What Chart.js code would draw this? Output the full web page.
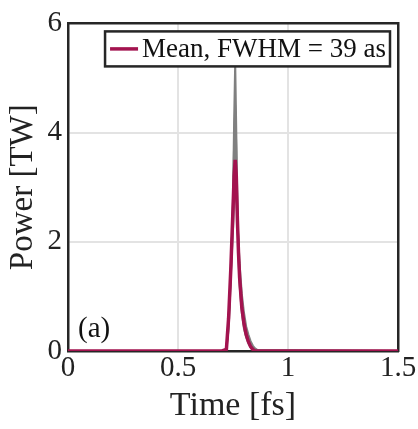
<!DOCTYPE html>
<html>
<head>
<meta charset="utf-8">
<script src="https://cdn.jsdelivr.net/npm/chart.js@4.4.1/dist/chart.umd.min.js"></script>
<style>
  html, body { margin: 0; padding: 0; background: #ffffff; }
  #wrap { width: 418px; height: 429px; }
</style>
</head>
<body>
<div id="wrap"><canvas id="c" width="418" height="429"></canvas></div>
<script>
// ---- data ----
const xTicks = [0, 0.5, 1, 1.5];
const yTicks = [0, 2, 4, 6];

const meanLabel = 'Mean, FWHM = 39 as';
const tMean = [0, 0.70, 0.72, 0.73, 0.74, 0.75, 0.755, 0.76, 0.765, 0.77, 0.775, 0.78, 0.79, 0.80, 0.81, 0.82, 0.83, 0.84, 0.85, 1.5];
const pMean = [0, 0, 0.03, 0.6, 1.5, 2.6, 3.2, 3.5, 3.2, 2.4, 1.8, 1.35, 0.8, 0.5, 0.3, 0.17, 0.08, 0.03, 0, 0];

const tShot = [0, 0.70, 0.72, 0.73, 0.74, 0.75, 0.755, 0.76, 0.765, 0.77, 0.775, 0.78, 0.79, 0.80, 0.81, 0.82, 0.83, 0.84, 0.85, 0.86, 1.5];
const shot1 = [0, 0, 0.02, 0.4, 1.3, 2.8, 4.2, 5.3, 4.0, 2.6, 1.7, 1.2, 0.7, 0.4, 0.25, 0.14, 0.07, 0.03, 0.01, 0, 0];
const shot2 = [0, 0, 0.03, 0.5, 1.4, 2.7, 3.8, 4.5, 3.7, 2.6, 1.9, 1.4, 0.85, 0.55, 0.33, 0.2, 0.1, 0.05, 0.02, 0, 0];
const shot3 = [0, 0, 0.04, 0.6, 1.4, 2.2, 2.7, 2.9, 2.8, 2.4, 2.0, 1.6, 1.05, 0.7, 0.45, 0.3, 0.18, 0.1, 0.05, 0.02, 0];
const shot4 = [0, 0, 0.03, 0.55, 1.5, 2.6, 3.4, 3.8, 3.3, 2.5, 1.9, 1.45, 0.9, 0.6, 0.38, 0.24, 0.13, 0.07, 0.03, 0.01, 0];
const shots = [shot1, shot2, shot3, shot4];

// ---- styles ----
const FONT = '"Liberation Serif", "Times New Roman", serif';
const AXIS = '#262626';
const GRID = '#e3e3e3';
const MEAN_COLOR = '#a3134f';
const SHOT_COLOR = '#808080';

const toXY = (ts, ps) => ts.map((t, i) => ({ x: t, y: ps[i] }));

const datasets = shots.map((s, i) => ({
  label: 'shot ' + (i + 1),
  data: toXY(tShot, s),
  borderColor: SHOT_COLOR,
  borderWidth: 2,
  pointRadius: 0,
  tension: 0,
  fill: false,
  order: 2,
  inLegend: false
}));
datasets.push({
  label: meanLabel,
  data: toXY(tMean, pMean),
  borderColor: MEAN_COLOR,
  borderWidth: 3.5,
  pointRadius: 0,
  tension: 0,
  fill: false,
  order: 0,
  inLegend: true
});

const boxAndLegend = {
  id: 'boxAndLegend',
  afterDatasetsDraw(chart) {
    const ctx = chart.ctx;
    const ca = chart.chartArea;
    ctx.save();
    // "(a)" panel label
    ctx.font = '29px ' + FONT;
    ctx.fillStyle = '#111';
    ctx.textAlign = 'left';
    ctx.textBaseline = 'alphabetic';
    ctx.fillText('(a)', ca.left + 10, ca.bottom - 14);

    // legend box
    const ds = chart.data.datasets.find(d => d.inLegend);
    ctx.font = '27px ' + FONT;
    const tw = ctx.measureText(ds.label).width;
    const lineLen = 28, gap = 4, padL = 5, padR = 4;
    const w = padL + lineLen + gap + tw + padR;
    const h = 35;
    const right = ca.right - 8;
    const left = right - w;
    const top = ca.top + 8;
    ctx.fillStyle = '#ffffff';
    ctx.fillRect(left, top, w, h);
    ctx.strokeStyle = AXIS;
    ctx.lineWidth = 2.5;
    ctx.strokeRect(left, top, w, h);
    ctx.strokeStyle = ds.borderColor;
    ctx.lineWidth = 3.5;
    ctx.beginPath();
    ctx.moveTo(left + padL, top + h / 2);
    ctx.lineTo(left + padL + lineLen, top + h / 2);
    ctx.stroke();
    ctx.fillStyle = '#111';
    ctx.textBaseline = 'middle';
    ctx.fillText(ds.label, left + padL + lineLen + gap, top + h / 2 + 1);
    ctx.restore();
  }
};

new Chart(document.getElementById('c'), {
  type: 'line',
  data: { datasets },
  options: {
    responsive: false,
    animation: false,
    events: [],
    layout: { padding: { top: 16, right: 20, left: 0, bottom: 0 } },
    plugins: { legend: { display: false }, tooltip: { enabled: false } },
    scales: {
      x: {
        type: 'linear', position: 'bottom', min: 0, max: 1.5,
        afterBuildTicks: s => { s.ticks = xTicks.map(v => ({ value: v })); },
        afterFit: s => { s.height = 78; },
        ticks: { font: { family: FONT, size: 29 }, color: '#222', padding: 0, maxRotation: 0,
                 callback: v => String(v) },
        grid: { color: GRID, lineWidth: 2, drawTicks: false },
        border: { display: true, color: AXIS, width: 2.5 },
        title: { display: true, text: 'Time [fs]', font: { family: FONT, size: 34 }, color: '#222', padding: { top: 0, bottom: 3 } }
      },
      xTop: {
        type: 'linear', position: 'top', min: 0, max: 1.5,
        afterFit: s => { s.height = 0; },
        ticks: { display: false },
        grid: { display: false, drawTicks: false },
        border: { display: true, color: AXIS, width: 2.5 }
      },
      y: {
        type: 'linear', position: 'left', min: 0, max: 6,
        afterBuildTicks: s => { s.ticks = yTicks.map(v => ({ value: v })); },
        afterFit: s => { s.width = 68; },
        ticks: { font: { family: FONT, size: 29 }, color: '#222', padding: 6,
                 callback: v => String(v) },
        grid: { color: GRID, lineWidth: 2, drawTicks: false },
        border: { display: true, color: AXIS, width: 2.5 },
        title: { display: true, text: 'Power [TW]', font: { family: FONT, size: 33 }, color: '#222', padding: { top: 4, bottom: 2 } }
      },
      yRight: {
        type: 'linear', position: 'right', min: 0, max: 6,
        afterFit: s => { s.width = 0; },
        ticks: { display: false },
        grid: { display: false, drawTicks: false },
        border: { display: true, color: AXIS, width: 2.5 }
      }
    }
  },
  plugins: [boxAndLegend]
});
</script>
</body>
</html>
